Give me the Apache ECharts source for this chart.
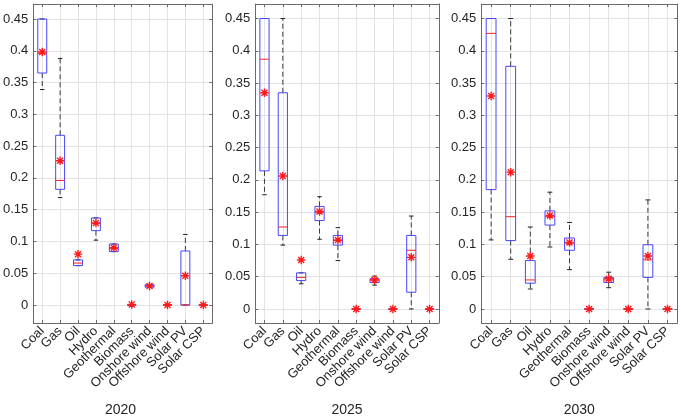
<!DOCTYPE html>
<html>
<head>
<meta charset="utf-8">
<script src="https://cdn.jsdelivr.net/npm/echarts@6/dist/echarts.min.js"></script>
<style>html,body{margin:0;padding:0;background:#fff}#c{width:681px;height:420px}</style>
</head>
<body>
<div id="c"></div>
<script>
// ---- data ----
var categories = ['Coal','Gas','Oil','Hydro','Geothermal','Biomass','Onshore wind','Offshore wind','Solar PV','Solar CSP'];
var years = ['2020','2025','2030'];
var yTicks = [0, 0.05, 0.1, 0.15, 0.2, 0.25, 0.3, 0.35, 0.4, 0.45];
var yTickLabels = ['0','0.05','0.1','0.15','0.2','0.25','0.3','0.35','0.4','0.45'];
// five-number summaries [min, q1, median, q3, max]
var box2020 = [
  [0.339,0.365,0.396,0.45,0.45],
  [0.169,0.182,0.196,0.267,0.388],
  [0.062,0.062,0.066,0.071,0.071],
  [0.102,0.117,0.128,0.137,0.137],
  [0.084,0.084,0.089,0.096,0.096],
  [0,0,0,0,0],
  [0.028,0.028,0.030,0.032,0.032],
  [0,0,0,0,0],
  [0,0,0,0.085,0.111],
  [0,0,0,0,0]
];
var mean2020 = [0.398,0.227,0.080,0.129,0.090,0.001,0.030,0,0.046,0];
var box2025 = [
  [0.177,0.214,0.387,0.45,0.45],
  [0.099,0.114,0.127,0.335,0.45],
  [0.039,0.044,0.049,0.056,0.056],
  [0.108,0.137,0.150,0.159,0.174],
  [0.075,0.099,0.106,0.114,0.126],
  [0,0,0,0,0],
  [0.037,0.041,0.045,0.047,0.051],
  [0,0,0,0,0],
  [0,0.026,0.091,0.114,0.144],
  [0,0,0,0,0]
];
var mean2025 = [0.335,0.206,0.076,0.151,0.107,0,0.045,0,0.080,0];
var box2030 = [
  [0.107,0.185,0.427,0.45,0.45],
  [0.077,0.106,0.143,0.376,0.45],
  [0.031,0.040,0.045,0.075,0.127],
  [0.096,0.130,0.143,0.152,0.181],
  [0.061,0.091,0.102,0.110,0.134],
  [0,0,0,0,0],
  [0.033,0.041,0.045,0.049,0.057],
  [0,0,0,0,0],
  [0,0.049,0.076,0.0995,0.169],
  [0,0,0,0,0]
];
var mean2030 = [0.330,0.212,0.082,0.145,0.103,0,0.047,0,0.082,0];

// ---- layout ----
var boxes = [box2020, box2025, box2030];
var means = [mean2020, mean2025, mean2030];
var grids = [
  {left: 28.7, top: 4, width: 183.5, height: 319},
  {left: 255.3, top: 4, width: 183.5, height: 319},
  {left: 481.3, top: 4, width: 196, height: 319}
];
var yRanges = [[-0.0283, 0.4736], [-0.0217, 0.4725], [-0.0217, 0.4725]];
var FONT = '"Liberation Sans", Arial, Helvetica, sans-serif';
var TXT = '#262626';
var AX = '#6a6a6a';
var GRIDC = '#e3e3e3';
var catIdx = categories.map(function(c, i){ return i; });

var option = {
  animation: false,
  backgroundColor: '#fff',
  textStyle: {fontFamily: FONT},
  grid: grids.map(function(g){ return Object.assign({containLabel: false}, g); }),
  xAxis: [], yAxis: [], series: [], graphic: []
};

function renderBox(params, api) {
  var x = api.value(0);
  var mn = api.value(1), q1 = api.value(2), md = api.value(3), q3 = api.value(4), mx = api.value(5);
  var band = api.size([1, 0])[0];
  var bw = band * 0.5, cw = band * 0.25;
  var pMin = api.coord([x, mn]), pQ1 = api.coord([x, q1]), pMd = api.coord([x, md]),
      pQ3 = api.coord([x, q3]), pMax = api.coord([x, mx]);
  var cx = pMd[0];
  var ch = [];
  var dash = {stroke: '#3a3a3a', lineWidth: 1, lineDash: [5, 3], fill: null};
  if (pQ1[1] - pMin[1] < -0.5) ch.push({type: 'line', shape: {x1: cx, y1: pQ1[1], x2: cx, y2: pMin[1]}, style: dash});
  if (pQ3[1] - pMax[1] > 0.5) ch.push({type: 'line', shape: {x1: cx, y1: pQ3[1], x2: cx, y2: pMax[1]}, style: dash});
  ch.push({type: 'line', shape: {x1: cx - cw/2, y1: pMin[1], x2: cx + cw/2, y2: pMin[1]}, style: {stroke: '#222', lineWidth: 1}});
  ch.push({type: 'line', shape: {x1: cx - cw/2, y1: pMax[1], x2: cx + cw/2, y2: pMax[1]}, style: {stroke: '#222', lineWidth: 1}});
  ch.push({type: 'rect', shape: {x: cx - bw/2, y: pQ3[1], width: bw, height: pQ1[1] - pQ3[1]},
           style: {fill: null, stroke: '#4646ff', lineWidth: 1}});
  ch.push({type: 'line', shape: {x1: cx - bw/2, y1: pMd[1], x2: cx + bw/2, y2: pMd[1]}, style: {stroke: '#ff2020', lineWidth: 1}});
  return {type: 'group', children: ch};
}

var star = 'path://M0,-10L0,10M-10,0L10,0M-7.07,-7.07L7.07,7.07M-7.07,7.07L7.07,-7.07';

for (var p = 0; p < 3; p++) {
  var lineStyle = {color: AX, width: 1};
  // bottom: category axis carrying the labels
  option.xAxis.push({
    gridIndex: p, type: 'category', data: categories, boundaryGap: true, position: 'bottom',
    axisLine: {show: true, onZero: false, lineStyle: lineStyle},
    axisTick: {show: true, inside: true, length: 3, alignWithLabel: true, interval: 0, lineStyle: {color: AX}},
    axisLabel: {show: true, interval: 0, rotate: 45, margin: 6, fontSize: 13, color: TXT, fontFamily: FONT},
    splitLine: {show: false}
  });
  // top: value axis mirroring the category centres (ticks + vertical grid)
  option.xAxis.push({
    gridIndex: p, type: 'value', min: -0.5, max: 9.5, position: 'top',
    axisLine: {show: true, onZero: false, lineStyle: lineStyle},
    axisTick: {show: true, inside: true, length: 3, customValues: catIdx, lineStyle: {color: AX}},
    axisLabel: {show: false},
    splitLine: {show: true, lineStyle: {color: GRIDC, width: 1}}
  });
  option.yAxis.push({
    gridIndex: p, type: 'value', min: yRanges[p][0], max: yRanges[p][1], position: 'left',
    axisLine: {show: true, onZero: false, lineStyle: lineStyle},
    axisTick: {show: true, inside: true, length: 3, customValues: yTicks, lineStyle: {color: AX}},
    axisLabel: {show: true, customValues: yTicks, margin: 5, fontSize: 13, color: TXT, fontFamily: FONT,
                showMinLabel: true, showMaxLabel: true,
                formatter: function(v){ return yTickLabels[Math.round(v / 0.05)]; }},
    splitLine: {show: true, lineStyle: {color: GRIDC, width: 1}}
  });
  option.yAxis.push({
    gridIndex: p, type: 'value', min: yRanges[p][0], max: yRanges[p][1], position: 'right',
    axisLine: {show: true, onZero: false, lineStyle: lineStyle},
    axisTick: {show: true, inside: true, length: 3, customValues: yTicks, lineStyle: {color: AX}},
    axisLabel: {show: false}, splitLine: {show: false}
  });
  var boxData = boxes[p].map(function(b, i){ return [i, b[0], b[1], b[2], b[3], b[4]]; });
  option.series.push({
    type: 'custom', xAxisIndex: 2*p, yAxisIndex: 2*p, renderItem: renderBox,
    data: boxData, encode: {x: 0, y: [1,2,3,4,5]}, clip: false, z: 2
  });
  option.series.push({
    type: 'scatter', xAxisIndex: 2*p, yAxisIndex: 2*p,
    data: means[p].map(function(m, i){ return [i, m]; }),
    symbol: star, symbolSize: 8.5,
    itemStyle: {color: 'rgba(0,0,0,0)', borderColor: '#ff1a1a', borderWidth: 1.4, opacity: 1},
    z: 5, silent: true
  });
  option.graphic.push({
    type: 'text', x: grids[p].left + grids[p].width / 2, y: 410,
    style: {text: years[p], align: 'center', verticalAlign: 'middle', fontSize: 14, fill: TXT, fontFamily: FONT}
  });
}

var chart = echarts.init(document.getElementById('c'), null, {renderer: 'canvas'});
chart.setOption(option);
</script>
</body>
</html>
